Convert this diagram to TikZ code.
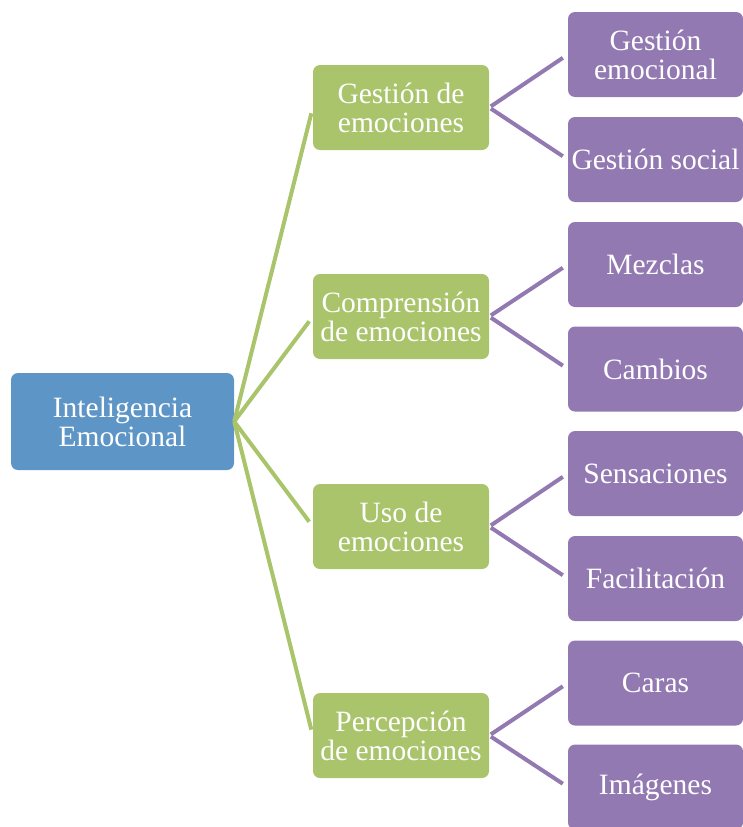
\documentclass[tikz,border=0pt]{standalone}
\usepackage{fontspec}
\setmainfont{Liberation Serif}
\definecolor{rootblue}{RGB}{94,149,199}
\definecolor{lvgreen}{RGB}{170,196,108}
\definecolor{lvpurple}{RGB}{147,121,178}
\begin{document}
\begin{tikzpicture}[x=1pt,y=-1pt,
  box/.style={rounded corners=7pt, text=white, align=center, inner sep=0pt,
    font=\fontsize{29.5}{29}\selectfont},
  rootbox/.style={box, fill=rootblue, minimum width=223pt, minimum height=97pt},
  greenbox/.style={box, fill=lvgreen, minimum width=176pt, minimum height=85pt},
  purplebox/.style={box, fill=lvpurple, minimum width=175pt, minimum height=85pt},
  greenline/.style={draw=lvgreen, line width=4pt, shorten >=6pt},
  purpleline/.style={draw=lvpurple, line width=4pt, shorten >=6pt, shorten <=2pt}]
\useasboundingbox (0,0) rectangle (743,827);
\node[rootbox] (root) at (122.5,421.5) {Inteligencia\\Emocional};
\node[greenbox] (g1) at (401,107.5) {Gestión de\\emociones};
\node[greenbox] (g2) at (401,316.5) {Comprensión\\de emociones};
\node[greenbox] (g3) at (401,526.5) {Uso de\\emociones};
\node[greenbox] (g4) at (401,735.5) {Percepción\\de emociones};
\node[purplebox] (p1) at (655.5,54.5) {Gestión\\emocional};
\node[purplebox] (p2) at (655.5,159.5) {Gestión social};
\node[purplebox] (p3) at (655.5,264.5) {Mezclas};
\node[purplebox] (p4) at (655.5,369) {Cambios};
\node[purplebox] (p5) at (655.5,473.5) {Sensaciones};
\node[purplebox] (p6) at (655.5,578.5) {Facilitación};
\node[purplebox] (p7) at (655.5,683) {Caras};
\node[purplebox] (p8) at (655.5,787) {Imágenes};
\foreach \g in {g1,g2,g3,g4}
  \draw[greenline] (root.east) -- (\g.west);
\draw[purpleline] (g1.east) -- (p1.west);
\draw[purpleline] (g1.east) -- (p2.west);
\draw[purpleline] (g2.east) -- (p3.west);
\draw[purpleline] (g2.east) -- (p4.west);
\draw[purpleline] (g3.east) -- (p5.west);
\draw[purpleline] (g3.east) -- (p6.west);
\draw[purpleline] (g4.east) -- (p7.west);
\draw[purpleline] (g4.east) -- (p8.west);
\end{tikzpicture}
\end{document}
